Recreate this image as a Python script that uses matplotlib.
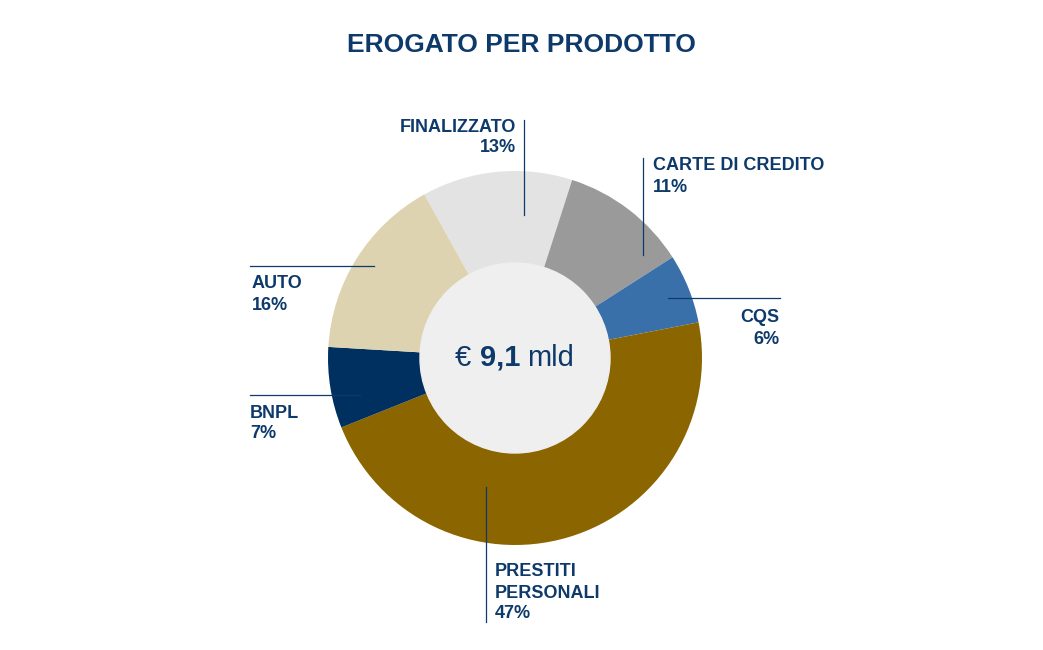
import matplotlib
matplotlib.use("Agg")
import matplotlib.pyplot as plt
from matplotlib.patches import Circle

plt.rcParams['font.family'] = ['Liberation Sans Narrow', 'Liberation Sans', 'DejaVu Sans']

NAVY = "#0d3a6b"
products = ["FINALIZZATO", "CARTE DI CREDITO", "CQS", "PRESTITI\nPERSONALI", "BNPL", "AUTO"]
shares = [13, 11, 6, 47, 7, 16]
colors = ["#e3e3e3", "#9a9a9a", "#3a70aa", "#8b6500", "#00305f", "#ddd3b0"]

W, H = 1043, 650
fig = plt.figure(figsize=(W / 100, H / 100), dpi=100)
ax = fig.add_axes([0, 0, 1, 1])

cx, cy, r = 515, H - 358, 187
ax.pie(shares, colors=colors, startangle=119, counterclock=False,
       radius=r, center=(cx, cy), frame=True,
       wedgeprops=dict(linewidth=0))
ax.set_xlim(0, W)
ax.set_ylim(0, H)
ax.set_aspect("equal")
ax.axis("off")
ax.add_patch(Circle((cx, cy), 95, color="#efefef", zorder=3))
ax.text(cx - 60, cy, "€ ", fontsize=21, color=NAVY, ha="left", va="center", zorder=4)
ax.text(cx - 35, cy, "9,1", fontsize=21, color=NAVY, fontweight="bold", ha="left", va="center", zorder=4)
ax.text(cx + 12, cy, "mld", fontsize=21, color=NAVY, ha="left", va="center", zorder=4)

ax.text(521, H - 45, "EROGATO PER PRODOTTO", fontsize=19, fontweight="bold",
        color=NAVY, ha="center", va="center")

# label positions (pixel coords from top), line segments
labels = [
    (516, 127, "right", [(524, 120), (524, 215)]),
    (653, 166, "left", [(643, 158), (643, 255)]),
    (779, 318, "right", [(668, 298), (780, 298)]),
    (495, 572, "left", [(486, 487), (486, 622)]),
    (250, 413, "left", [(250, 395), (360, 395)]),
    (252, 284, "left", [(250, 266), (374, 266)]),
]
for name, pct, (x, y, ha, seg) in zip(products, shares, labels):
    lines = name.split("\n") + [f"{pct}%"]
    for i, t in enumerate(lines):
        ax.text(x, H - (y + i * 21), t, fontsize=13, fontweight="bold",
                color=NAVY, ha=ha, va="center", zorder=5)
    (x0, y0), (x1, y1) = seg
    ax.plot([x0, x1], [H - y0, H - y1], color=NAVY, lw=0.9, zorder=5)

fig.savefig("out.png", dpi=100)
